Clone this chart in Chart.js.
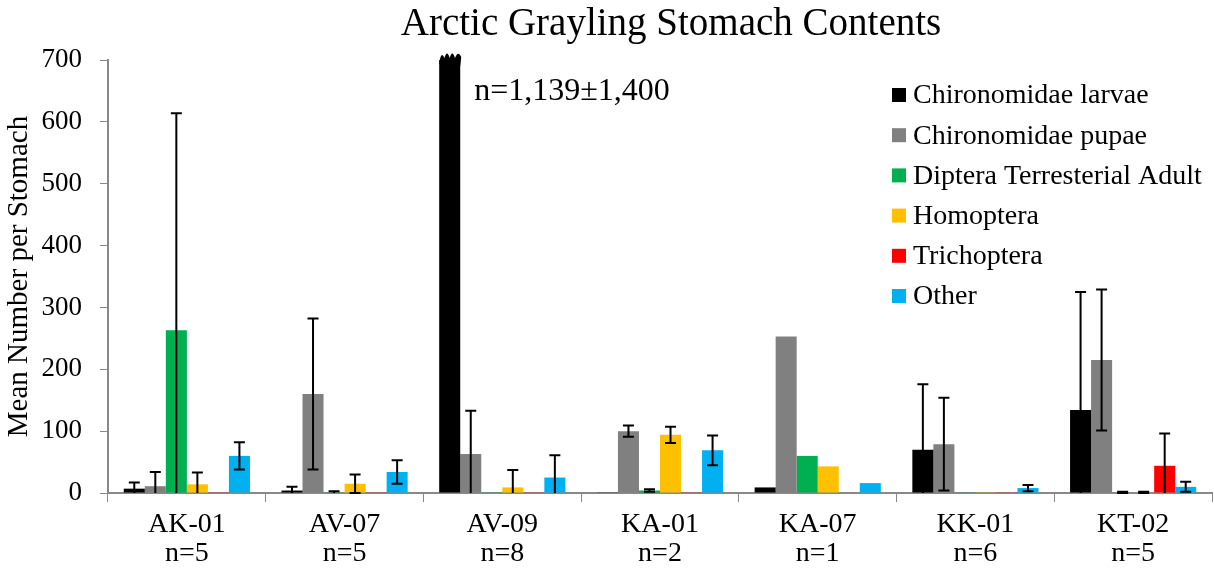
<!DOCTYPE html>
<html>
<head>
<meta charset="utf-8">
<script src="https://cdn.jsdelivr.net/npm/chart.js@4/dist/chart.umd.min.js"></script>
<style>
html,body{margin:0;padding:0;background:#fff;}
#wrap{width:1214px;height:568px;position:relative;}
</style>
</head>
<body>
<div id="wrap"><canvas id="c" width="1214" height="568"></canvas></div>
<script>
const categories = [["AK-01","n=5"],["AV-07","n=5"],["AV-09","n=8"],["KA-01","n=2"],["KA-07","n=1"],["KK-01","n=6"],["KT-02","n=5"]];
const seriesNames = ["Chironomidae larvae","Chironomidae pupae","Diptera Terresterial Adult","Homoptera","Trichoptera","Other"];
const seriesColors = ["#000000","#808080","#00B050","#FFC000","#FF0000","#00B0F0"];

const larvae      = [7, 4, 1139, 0.5, 9, 70, 134];
const pupae       = [11, 160, 63, 100, 253, 79, 215];
const diptera     = [263, 1, 0.5, 4, 60, 0.5, 1];
const homoptera   = [14, 15, 9, 94, 43, 0.5, 1];
const trichoptera = [0.5, 0.5, 0.5, 0.5, 0, 0.5, 44];
const other       = [60, 34, 25, 69, 16, 8, 10];

const larvaeErr      = [10, 6, null, null, null, 106, 191];
const pupaeErr       = [23, 122, 70, 9, null, 75, 114];
const dipteraErr     = [351, 2, null, 2, null, null, 1];
const homopteraErr   = [19, 15, 28, 13, null, null, 1];
const trichopteraErr = [null, null, null, null, null, null, 52];
const otherErr       = [22, 19, 36, 24, null, 5, 8];

const yTicks = [0,100,200,300,400,500,600,700];
const titleText = "Arctic Grayling Stomach Contents";
const annotationText = "n=1,139\u00b11,400";

const values = [larvae, pupae, diptera, homoptera, trichoptera, other];
const errors = [larvaeErr, pupaeErr, dipteraErr, homopteraErr, trichopteraErr, otherErr];

const FONT = "'Liberation Serif','Times New Roman',serif";

const errorBarPlugin = {
  id: 'errorBars',
  afterDatasetsDraw(chart) {
    const ctx = chart.ctx;
    const y = chart.scales.y;
    ctx.save();
    ctx.strokeStyle = '#000';
    ctx.lineWidth = 2;
    chart.data.datasets.forEach((ds, i) => {
      const meta = chart.getDatasetMeta(i);
      meta.data.forEach((el, j) => {
        const e = errors[i][j];
        const v = values[i][j];
        if (e == null) return;
        const hiV = v + e, loV = v - e;
        const cap = 5.5;
        const yTop = y.getPixelForValue(Math.min(hiV, y.max));
        const yBot = y.getPixelForValue(Math.max(loV, 0));
        ctx.beginPath();
        ctx.moveTo(el.x, yTop);
        ctx.lineTo(el.x, yBot);
        if (hiV <= y.max) { ctx.moveTo(el.x - cap, yTop); ctx.lineTo(el.x + cap, yTop); }
        if (loV >= 0) { ctx.moveTo(el.x - cap, yBot); ctx.lineTo(el.x + cap, yBot); }
        ctx.stroke();
      });
    });
    ctx.restore();
  }
};

const extrasPlugin = {
  id: 'extras',
  afterDraw(chart) {
    const ctx = chart.ctx;
    const area = chart.chartArea;
    ctx.save();
    // title
    ctx.font = "39px " + FONT;
    ctx.fillStyle = '#000';
    ctx.textBaseline = 'middle';
    ctx.textAlign = 'center';
    ctx.fillText(titleText, (area.left + area.right) / 2 + 11, 25);
    // broken (truncated) bar top for AV-09 larvae
    const el = chart.getDatasetMeta(0).data[2];
    const l = el.x - el.width / 2, r = el.x + el.width / 2, t = area.top;
    ctx.beginPath();
    ctx.moveTo(l, t + 4);
    const w = (r - l);
    ctx.quadraticCurveTo(l + w * 0.08, t - 10, l + w * 0.25, t - 2);
    ctx.quadraticCurveTo(l + w * 0.37, t - 11, l + w * 0.5, t - 2);
    ctx.quadraticCurveTo(l + w * 0.62, t - 11, l + w * 0.75, t - 2);
    ctx.quadraticCurveTo(l + w * 0.9, t - 10, r + 1, t - 3);
    ctx.lineTo(r, t + 6);
    ctx.closePath();
    ctx.fill();
    // annotation
    ctx.font = "32px " + FONT;
    ctx.textAlign = 'left';
    ctx.fillText(annotationText, r + 14, area.top + 32);
    // legend
    const lx = 892, ly0 = area.top + 35, dy = 40.2;
    ctx.font = "28px " + FONT;
    seriesNames.forEach((name, i) => {
      const cy = ly0 + i * dy;
      ctx.fillStyle = seriesColors[i];
      ctx.fillRect(lx, cy - 7, 14, 14);
      ctx.fillStyle = '#000';
      ctx.fillText(name, lx + 21, cy + 1);
    });
    ctx.restore();
  }
};

const datasets = seriesNames.map((name, i) => ({
  label: name,
  data: values[i],
  backgroundColor: seriesColors[i],
  borderWidth: 0,
  categoryPercentage: 0.8,
  barPercentage: 1.0
}));

new Chart(document.getElementById('c'), {
  type: 'bar',
  data: { labels: categories, datasets },
  options: {
    responsive: false,
    animation: false,
    events: [],
    layout: { padding: { left: 0, right: 2, top: 60, bottom: 0 } },
    plugins: {
      legend: { display: false },
      tooltip: { enabled: false },
      title: { display: false }
    },
    scales: {
      x: {
        grid: { drawOnChartArea: false, drawTicks: true, tickLength: 9, color: '#898989', offset: true },
        border: { color: '#898989', width: 2 },
        ticks: { color: '#000', font: { family: FONT, size: 28, lineHeight: 1.05 }, padding: 8, maxRotation: 0, autoSkip: false },
        afterFit(scale) { scale.height = 75; }
      },
      y: {
        min: 0, max: 700,
        afterBuildTicks(scale) { scale.ticks = yTicks.map(v => ({ value: v })); },
        grid: { drawOnChartArea: false, drawTicks: true, tickLength: 8, color: '#898989' },
        border: { color: '#898989', width: 2 },
        ticks: { color: '#000', font: { family: FONT, size: 27 }, padding: 18 },
        title: { display: true, text: 'Mean Number per Stomach', color: '#000', font: { family: FONT, size: 29 }, padding: { top: 2, bottom: 0 } },
        afterFit(scale) { scale.width = 108; }
      }
    }
  },
  plugins: [errorBarPlugin, extrasPlugin]
});
</script>
</body>
</html>
